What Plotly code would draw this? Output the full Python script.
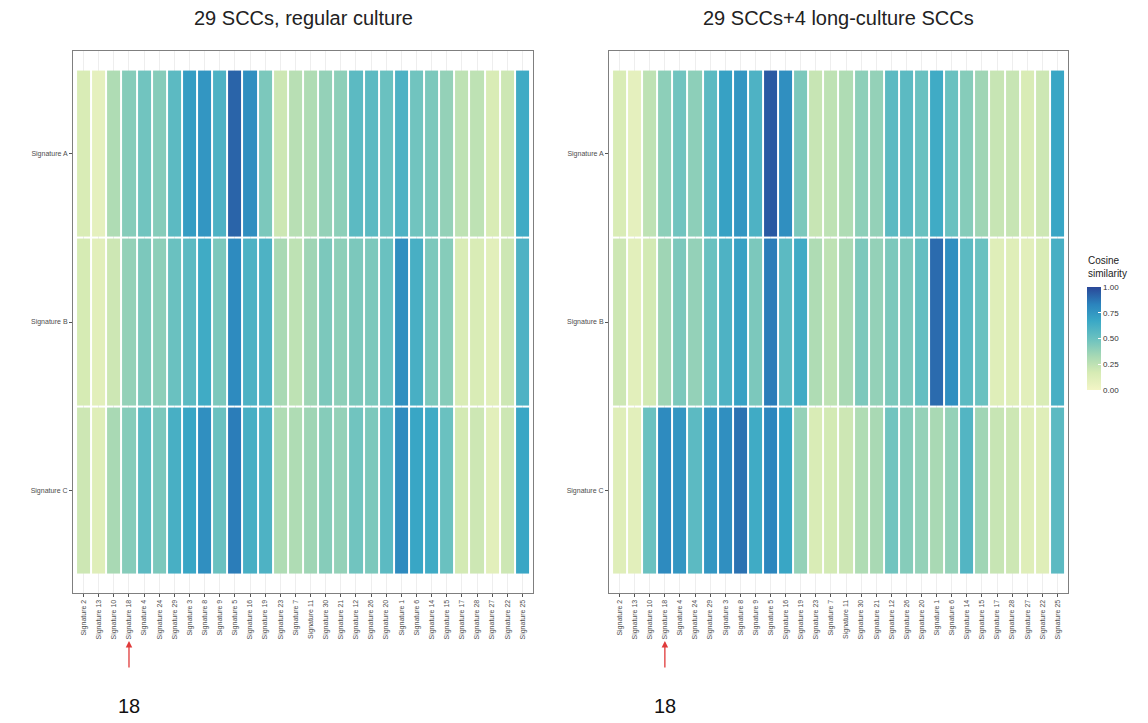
import plotly.graph_objects as go

signatures = ["Signature 2", "Signature 13", "Signature 10", "Signature 18", "Signature 4",
              "Signature 24", "Signature 29", "Signature 3", "Signature 8", "Signature 9",
              "Signature 5", "Signature 16", "Signature 19", "Signature 23", "Signature 7",
              "Signature 11", "Signature 30", "Signature 21", "Signature 12", "Signature 26",
              "Signature 20", "Signature 1", "Signature 6", "Signature 14", "Signature 15",
              "Signature 17", "Signature 28", "Signature 27", "Signature 22", "Signature 25"]
rows = ["Signature A", "Signature B", "Signature C"]

left_A = [0.15, 0.08, 0.30, 0.42, 0.48, 0.42, 0.55, 0.72, 0.75, 0.60, 0.92, 0.78, 0.45, 0.20, 0.27,
          0.30, 0.38, 0.40, 0.55, 0.55, 0.50, 0.60, 0.48, 0.45, 0.38, 0.25, 0.25, 0.15, 0.20, 0.65]
left_B = [0.17, 0.10, 0.20, 0.38, 0.45, 0.40, 0.50, 0.55, 0.65, 0.45, 0.80, 0.60, 0.60, 0.32, 0.25,
          0.35, 0.45, 0.40, 0.45, 0.45, 0.50, 0.78, 0.62, 0.45, 0.42, 0.15, 0.15, 0.10, 0.20, 0.60]
left_C = [0.20, 0.12, 0.32, 0.42, 0.55, 0.45, 0.62, 0.68, 0.78, 0.50, 0.85, 0.62, 0.60, 0.30, 0.30,
          0.35, 0.42, 0.38, 0.48, 0.45, 0.55, 0.80, 0.68, 0.65, 0.50, 0.18, 0.20, 0.10, 0.20, 0.68]

right_A = [0.15, 0.08, 0.25, 0.40, 0.48, 0.40, 0.55, 0.70, 0.75, 0.60, 0.95, 0.78, 0.45, 0.22, 0.25,
           0.30, 0.40, 0.38, 0.55, 0.55, 0.50, 0.65, 0.50, 0.42, 0.35, 0.22, 0.22, 0.15, 0.20, 0.68]
right_B = [0.20, 0.10, 0.18, 0.35, 0.45, 0.38, 0.50, 0.60, 0.70, 0.45, 0.85, 0.55, 0.65, 0.30, 0.25,
           0.32, 0.45, 0.38, 0.45, 0.45, 0.52, 0.90, 0.78, 0.55, 0.50, 0.12, 0.12, 0.10, 0.15, 0.62]
right_C = [0.12, 0.10, 0.50, 0.80, 0.75, 0.55, 0.75, 0.78, 0.88, 0.65, 0.82, 0.68, 0.38, 0.15, 0.18,
           0.20, 0.30, 0.32, 0.48, 0.42, 0.38, 0.32, 0.38, 0.58, 0.35, 0.22, 0.20, 0.12, 0.12, 0.55]

titles = ["29 SCCs, regular culture", "29 SCCs+4 long-culture SCCs"]
colorbar_title = "Cosine<br>similarity"
colorbar_ticks = [0.0, 0.25, 0.5, 0.75, 1.0]
colorbar_ticktext = ["0.00", "0.25", "0.50", "0.75", "1.00"]

colorscale = [
    [0.0, "#f3f5c6"],
    [0.17, "#d6ebb4"],
    [0.33, "#a6d8b4"],
    [0.5, "#6ac1c0"],
    [0.67, "#3aa8c6"],
    [0.83, "#2b84bd"],
    [1.0, "#2a4798"],
]

OFF = 8  # page body margin
W, H = 1148 - OFF, 723 - OFF


def px(xp):
    return (xp - OFF) / W


def py(yp):
    return 1 - (yp - OFF) / H


panels = [
    dict(x0=73, x1=533, data=[left_A, left_B, left_C]),
    dict(x0=609, x1=1068, data=[right_A, right_B, right_C]),
]
y_top, y_bot = 51, 593

fig = go.Figure()
for i, p in enumerate(panels):
    xa = "x" if i == 0 else "x2"
    ya = "y" if i == 0 else "y2"
    fig.add_trace(go.Heatmap(
        z=p["data"], x=signatures, y=rows, xaxis=xa, yaxis=ya,
        zmin=0, zmax=1, colorscale=colorscale, xgap=2, ygap=2,
        showscale=(i == 0),
        colorbar=dict(
            x=px(1087), xanchor="left", y=py(287), yanchor="top",
            len=(390 - 287) / H, lenmode="fraction", thickness=14,
            xpad=0, ypad=0,
            outlinewidth=0, tickvals=colorbar_ticks, ticktext=colorbar_ticktext,
            ticks="inside", ticklen=3, tickcolor="white",
            tickfont=dict(size=8, color="#333333", family="Liberation Sans"),
        ),
    ))

axis_common = dict(showline=True, linecolor="#7f7f7f", linewidth=1, mirror=True,
                   ticks="outside", ticklen=3, tickcolor="#555555",
                   tickfont=dict(size=7, color="#4d4d4d", family="Liberation Sans"),
                   zeroline=False)

layout = dict(
    width=W, height=H, margin=dict(l=0, r=0, t=0, b=0),
    paper_bgcolor="white", plot_bgcolor="white",
    font=dict(family="Liberation Sans"),
)
for i, p in enumerate(panels):
    xk = "xaxis" if i == 0 else "xaxis2"
    yk = "yaxis" if i == 0 else "yaxis2"
    layout[xk] = dict(axis_common, domain=[px(p["x0"]), px(p["x1"])],
                      anchor="y" if i == 0 else "y2", tickangle=-90,
                      range=[-0.7, 29.7], showgrid=True, gridcolor="#eeeeee",
                      categoryorder="array", categoryarray=signatures)
    layout[yk] = dict(axis_common, domain=[py(y_bot), py(y_top)],
                      anchor="x" if i == 0 else "x2",
                      range=[2.61, -0.61], showgrid=False,
                      categoryorder="array", categoryarray=rows,
                      showticklabels=True)

fig.update_layout(**layout)

fig.add_annotation(text=colorbar_title, xref="paper", yref="paper", x=px(1086), y=py(253),
                   xanchor="left", yanchor="top", align="left", showarrow=False,
                   font=dict(size=10, color="#222222", family="Liberation Sans"))

for i, p in enumerate(panels):
    cx = px((p["x0"] + p["x1"]) / 2)
    fig.add_annotation(text=titles[i], xref="paper", yref="paper", x=cx, y=py(18),
                       xanchor="center", yanchor="middle",
                       showarrow=False, font=dict(size=20, color="#222222", family="Liberation Sans"))
    xr = "x" if i == 0 else "x2"
    fig.add_annotation(text="", xref=xr, yref="paper", x="Signature 18", y=py(641),
                       ax=0, ay=28, showarrow=True, arrowhead=2, arrowsize=1,
                       arrowwidth=1.3, arrowcolor="#e03a3a")
    fig.add_annotation(text="18", xref=xr, yref="paper", x="Signature 18", y=py(706),
                       xanchor="center", yanchor="middle",
                       showarrow=False, font=dict(size=20, color="#111111", family="Liberation Sans"))

fig.write_html("out.html")
